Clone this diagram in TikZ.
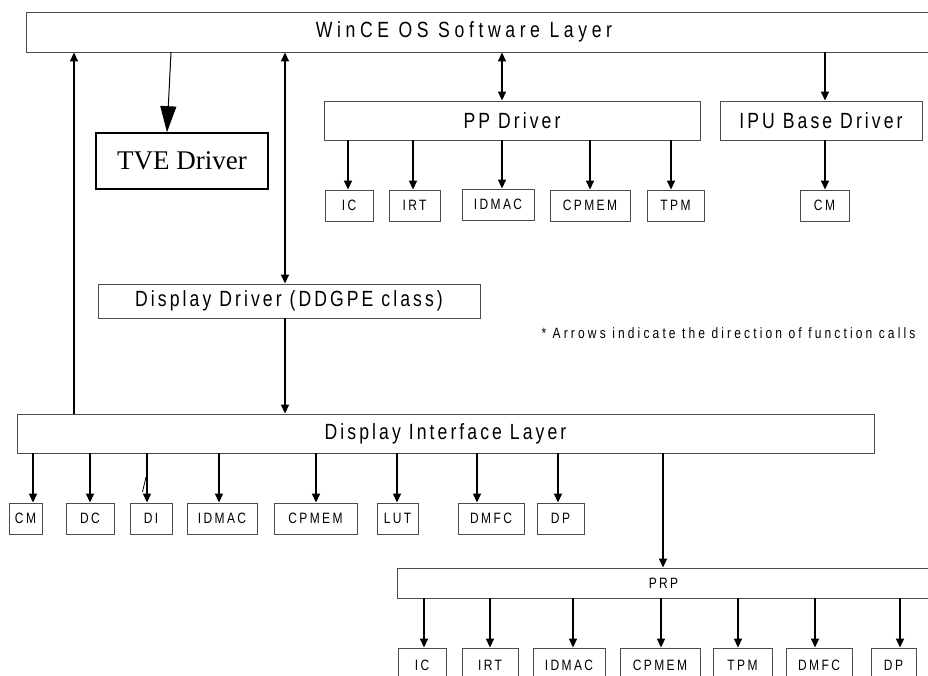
\documentclass[tikz,border=0pt]{standalone}
\usepackage{fontspec}
\setmainfont{Liberation Sans}
\newfontfamily\narrowfont[FakeStretch=0.8,LetterSpace=14]{Liberation Sans}
\newfontfamily\widefont[FakeStretch=0.8,LetterSpace=21]{Liberation Sans}
\newfontfamily\smallfont[FakeStretch=0.8,LetterSpace=16]{Liberation Sans}
\newfontfamily\notefont[FakeStretch=0.8,LetterSpace=21]{Liberation Sans}
\newfontfamily\serfont{Liberation Serif}
\usetikzlibrary{arrows.meta}

\tikzset{
  layer/.style={draw=black!70, line width=0.9pt, fill=white, inner sep=0pt,
    font=\narrowfont\fontsize{22}{26}\selectfont},
  unit/.style={draw=black!70, line width=0.9pt, inner sep=0pt, minimum height=31pt,
    font=\smallfont\fontsize{15}{18}\selectfont},
  call/.style={line width=1.6pt, -{Triangle[width=8pt,length=9pt]}},
  twoway/.style={line width=1.6pt, {Triangle[width=8pt,length=9pt]}-{Triangle[width=8pt,length=9pt]}}
}

\begin{document}
\begin{tikzpicture}[x=1pt, y=-1pt]
\useasboundingbox (0,0) rectangle (928,675);

\node[layer, minimum width=904pt, minimum height=40pt, font=\widefont\fontsize{22}{26}\selectfont] (win) at (478,32)
  {\hspace*{-28pt}WinCE OS Software Layer};
\node[draw, line width=1.6pt, minimum width=172pt, minimum height=56pt, inner sep=0pt,
  font=\serfont\fontsize{27}{30}\selectfont] (tve) at (182,161) {TVE Driver};
\node[layer, minimum width=376pt, minimum height=39pt] (pp) at (512,120.5) {PP Driver};
\node[layer, minimum width=202pt, minimum height=39pt] (ipu) at (821,120.5) {IPU Base Driver};
\node[layer, minimum width=382pt, minimum height=34pt] (dd) at (289,301) {Display Driver (DDGPE class)};
\node[anchor=west, font=\notefont\fontsize{15}{18}\selectfont] (note) at (538,333)
  {* Arrows indicate the direction of function calls};
\node[layer, minimum width=857pt, minimum height=39pt] (dil) at (445.5,433.5) {Display Interface Layer};
\node[layer, minimum width=533pt, minimum height=30pt,
  font=\smallfont\fontsize{15}{18}\selectfont] (prp) at (663.5,583) {PRP};

% PP driver units
\node[unit, minimum width=48pt] (ppic) at (349,205.5) {IC};
\node[unit, minimum width=51pt] (ppirt) at (414.5,205.5) {IRT};
\node[unit, minimum width=72pt] (ppidmac) at (498,204.5) {IDMAC};
\node[unit, minimum width=80pt] (ppcpmem) at (590,205.5) {CPMEM};
\node[unit, minimum width=57pt] (pptpm) at (675.5,205.5) {TPM};
\node[unit, minimum width=49pt] (ipucm) at (824.5,205.5) {CM};

% display interface units
\node[unit, minimum width=33pt] (dicm) at (25.5,518.5) {CM};
\node[unit, minimum width=48pt] (didc) at (90,518.5) {DC};
\node[unit, minimum width=42pt] (didi) at (151,518.5) {DI};
\node[unit, minimum width=70pt] (diidmac) at (222,518.5) {IDMAC};
\node[unit, minimum width=83pt] (dicpmem) at (315.5,518.5) {CPMEM};
\node[unit, minimum width=41pt] (dilut) at (397.5,518.5) {LUT};
\node[unit, minimum width=66pt] (didmfc) at (491,518.5) {DMFC};
\node[unit, minimum width=47pt] (didp) at (560.5,518.5) {DP};

% PRP units
\node[unit, minimum width=48pt, minimum height=34pt] (pric) at (422,665) {IC};
\node[unit, minimum width=56pt, minimum height=34pt] (prirt) at (490,665) {IRT};
\node[unit, minimum width=72pt, minimum height=34pt] (pridmac) at (569,665) {IDMAC};
\node[unit, minimum width=80pt, minimum height=34pt] (prcpmem) at (660,665) {CPMEM};
\node[unit, minimum width=59pt, minimum height=34pt] (prtpm) at (742.5,665) {TPM};
\node[unit, minimum width=66pt, minimum height=34pt] (prdmfc) at (819,665) {DMFC};
\node[unit, minimum width=45pt, minimum height=34pt] (prdp) at (893.5,665) {DP};

\draw[call] (dil.north -| 74,0) -- (win.south -| 74,0);
\draw[line width=1pt, -{Triangle[width=16pt,length=26pt]}] (win.south -| 171,0) -- (tve.north -| 167,0);
\draw[twoway] (win.south -| 285,0) -- (dd.north -| 285,0);
\draw[twoway] (win.south -| 502,0) -- (pp.north -| 502,0);
\draw[call] (win.south -| 825,0) -- (ipu.north -| 825,0);
\draw[call] (dd.south -| 285,0) -- (dil.north -| 285,0);
\draw[call] (dil.south -| 663,0) -- (prp.north -| 663,0);

\foreach \n/\x in {ppic/348, ppirt/413, ppidmac/502, ppcpmem/590, pptpm/671}
  \draw[call] (pp.south -| \x,0) -- (\n.north -| \x,0);
\draw[call] (ipu.south -| 825,0) -- (ipucm.north -| 825,0);

\foreach \n/\x in {dicm/33, didc/90, didi/147, diidmac/219, dicpmem/316, dilut/397, didmfc/477, didp/558}
  \draw[call] (dil.south -| \x,0) -- (\n.north -| \x,0);
\draw[line width=0.8pt] (142.5,492) -- (146,477);

\foreach \n/\x in {pric/424, prirt/490, pridmac/573, prcpmem/661, prtpm/738, prdmfc/815, prdp/900}
  \draw[call] (prp.south -| \x,0) -- (\n.north -| \x,0);
\end{tikzpicture}
\end{document}
